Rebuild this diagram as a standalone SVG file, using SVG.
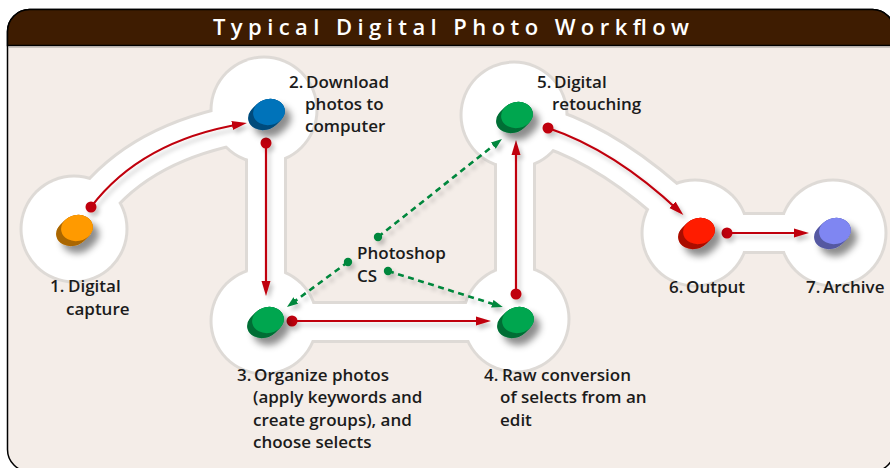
<svg xmlns="http://www.w3.org/2000/svg" xmlns:xlink="http://www.w3.org/1999/xlink" width="890" height="468" viewBox="0 0 890 468">
<style>
.lbl{font-family:"Open Sans","Liberation Sans",sans-serif;font-weight:600;font-size:17px;fill:#1b1b1b}
.title{font-family:"Open Sans","Liberation Sans",sans-serif;font-weight:600;font-size:22px;fill:#ffffff}
.trk-o{fill:none;stroke:#dedad6;stroke-width:42;stroke-linejoin:round}
.trk-i{fill:none;stroke:#ffffff;stroke-width:36;stroke-linejoin:round}
.halo-o{fill:#dedad6}
.halo-i{fill:#ffffff}
.red{fill:none;stroke:#c0000c;stroke-width:2.2}
.rdot{fill:#c0000c}
.grn{fill:none;stroke:#00873c;stroke-width:2.6;stroke-dasharray:6 4.5}
.gdot{fill:#00873c}
</style>
<defs>
<filter id="csh" x="-50%" y="-50%" width="200%" height="200%">
<feDropShadow dx="6" dy="7" stdDeviation="3.5" flood-color="#000" flood-opacity="0.45"/>
</filter>
<filter id="ash" x="-20%" y="-20%" width="140%" height="140%">
<feDropShadow dx="3" dy="4" stdDeviation="2" flood-color="#000" flood-opacity="0.22"/>
</filter>
<marker id="ah" markerUnits="userSpaceOnUse" markerWidth="16" markerHeight="10" refX="9" refY="5" orient="auto">
<path d="M0,0.5 L15,5 L0,9.5 Z" fill="#c0000c"/>
</marker>
<marker id="gh" markerUnits="userSpaceOnUse" markerWidth="12" markerHeight="9" refX="6" refY="4.5" orient="auto">
<path d="M0,0.5 L11,4.5 L0,8.5 Z" fill="#00873c"/>
</marker>
<g id="coin">
<g fill="currentColor">
<ellipse cx="2" cy="-2" rx="16" ry="13" transform="rotate(-12 2 -2)"/>
<ellipse cx="1" cy="-1" rx="16" ry="13" transform="rotate(-12 1 -1)"/>
<ellipse cx="0" cy="0" rx="16" ry="13" transform="rotate(-12 0 0)"/>
<ellipse cx="-1" cy="1" rx="16" ry="13" transform="rotate(-12 -1 1)"/>
<ellipse cx="-2" cy="2" rx="16" ry="13" transform="rotate(-12 -2 2)"/>
<ellipse cx="-3" cy="3" rx="16" ry="13" transform="rotate(-12 -3 3)"/>
</g>
<g fill="#000" opacity="0.33">
<ellipse cx="2" cy="-2" rx="16" ry="13" transform="rotate(-12 2 -2)"/>
<ellipse cx="1" cy="-1" rx="16" ry="13" transform="rotate(-12 1 -1)"/>
<ellipse cx="0" cy="0" rx="16" ry="13" transform="rotate(-12 0 0)"/>
<ellipse cx="-1" cy="1" rx="16" ry="13" transform="rotate(-12 -1 1)"/>
<ellipse cx="-2" cy="2" rx="16" ry="13" transform="rotate(-12 -2 2)"/>
<ellipse cx="-3" cy="3" rx="16" ry="13" transform="rotate(-12 -3 3)"/>
</g>
<ellipse cx="2" cy="-2" rx="16" ry="13" transform="rotate(-12 2 -2)" fill="currentColor"/>
</g>
</defs>

<rect x="0" y="0" width="890" height="468" fill="#ffffff"/>
<g id="frame">
<rect x="7.5" y="9.5" width="887" height="462" rx="22" ry="22" fill="#f4ede8" stroke="#000" stroke-width="1.5"/>
<path d="M7.5,45.5 L7.5,31.5 A22,22 0 0 1 29.5,9.5 L872.5,9.5 A22,22 0 0 1 894.5,31.5 L894.5,45.5 Z" fill="#3e1c01" stroke="#000" stroke-width="1.5"/>
<line x1="8" y1="47.2" x2="890" y2="47.2" stroke="#b9b2ad" stroke-width="1"/>
<text class="title" x="213" y="35" textLength="476" lengthAdjust="spacing">Typical Digital Photo Workflow</text>
</g>

<g id="track">
<path class="trk-o" d="M74,229 L91,207 Q141,141 247,123 L264,112"/>
<path class="trk-o" d="M266,110 L266,322"/>
<path class="trk-o" d="M264,322 L516,322"/>
<path class="trk-o" d="M515,321 L515,115"/>
<path class="trk-o" d="M514,115 L548,128 Q614,150 683,215 L695,233"/>
<path class="trk-o" d="M695,233 L833,233"/>
<circle class="halo-o" cx="74" cy="229" r="54.5"/>
<circle class="halo-o" cx="264" cy="110" r="54.5"/>
<circle class="halo-o" cx="264" cy="321" r="54.5"/>
<circle class="halo-o" cx="516" cy="319" r="54.5"/>
<circle class="halo-o" cx="514" cy="115" r="54.5"/>
<circle class="halo-o" cx="695" cy="233" r="54.5"/>
<circle class="halo-o" cx="833" cy="233" r="54.5"/>
<path class="trk-i" d="M74,229 L91,207 Q141,141 247,123 L264,112"/>
<path class="trk-i" d="M266,110 L266,322"/>
<path class="trk-i" d="M264,322 L516,322"/>
<path class="trk-i" d="M515,321 L515,115"/>
<path class="trk-i" d="M514,115 L548,128 Q614,150 683,215 L695,233"/>
<path class="trk-i" d="M695,233 L833,233"/>
<circle class="halo-i" cx="74" cy="229" r="51.5"/>
<circle class="halo-i" cx="264" cy="110" r="51.5"/>
<circle class="halo-i" cx="264" cy="321" r="51.5"/>
<circle class="halo-i" cx="516" cy="319" r="51.5"/>
<circle class="halo-i" cx="514" cy="115" r="51.5"/>
<circle class="halo-i" cx="695" cy="233" r="51.5"/>
<circle class="halo-i" cx="833" cy="233" r="51.5"/>
</g>

<g id="connectors" filter="url(#ash)">
<path class="red" d="M91,207 Q141,141 241,124" marker-end="url(#ah)"/>
<circle class="rdot" cx="91" cy="207" r="5.5"/>
<path class="red" d="M266,143 L266,290" marker-end="url(#ah)"/>
<circle class="rdot" cx="266" cy="143" r="5.5"/>
<path class="red" d="M292,321 L485,321" marker-end="url(#ah)"/>
<circle class="rdot" cx="292" cy="321" r="5.5"/>
<path class="red" d="M516,294 L516,146" marker-end="url(#ah)"/>
<circle class="rdot" cx="516" cy="294" r="5.5"/>
<path class="red" d="M548,128 Q614,150 679,211" marker-end="url(#ah)"/>
<circle class="rdot" cx="548" cy="128" r="5.5"/>
<path class="red" d="M727,233 L803,233" marker-end="url(#ah)"/>
<circle class="rdot" cx="727" cy="233" r="5.5"/>
<path class="grn" d="M378,237 L498,142" marker-end="url(#gh)"/>
<circle class="gdot" cx="378" cy="237" r="4.2"/>
<path class="grn" d="M348,262 L291,304" marker-end="url(#gh)"/>
<circle class="gdot" cx="348" cy="262" r="4.2"/>
<path class="grn" d="M388,271 L498,305.5" marker-end="url(#gh)"/>
<circle class="gdot" cx="388" cy="271" r="4.2"/>
</g>

<g id="node-1">
<use xlink:href="#coin" href="#coin" transform="translate(75,230)" style="color:#ff9a00" filter="url(#csh)"/>
<text class="lbl"><tspan x="50" y="292">1.</tspan><tspan x="68" y="292">Digital</tspan><tspan x="66" y="315">capture</tspan></text>
</g>
<g id="node-2">
<use xlink:href="#coin" href="#coin" transform="translate(267,114)" style="color:#0073ba" filter="url(#csh)"/>
<text class="lbl"><tspan x="289" y="88">2.</tspan><tspan x="306" y="88">Download</tspan><tspan x="305" y="110">photos to</tspan><tspan x="305" y="132">computer</tspan></text>
</g>
<g id="node-3">
<use xlink:href="#coin" href="#coin" transform="translate(266,322)" style="color:#00a650" filter="url(#csh)"/>
<text class="lbl"><tspan x="237" y="381">3.</tspan><tspan x="254" y="381">Organize photos</tspan><tspan x="253" y="403">(apply keywords and</tspan><tspan x="253" y="426">create groups), and</tspan><tspan x="253" y="448">choose selects</tspan></text>
</g>
<g id="node-4">
<use xlink:href="#coin" href="#coin" transform="translate(516,322)" style="color:#00a650" filter="url(#csh)"/>
<text class="lbl"><tspan x="484" y="381">4.</tspan><tspan x="502" y="381">Raw conversion</tspan><tspan x="500" y="403">of selects from an</tspan><tspan x="500" y="426">edit</tspan></text>
</g>
<g id="node-5">
<use xlink:href="#coin" href="#coin" transform="translate(515,117)" style="color:#00a650" filter="url(#csh)"/>
<text class="lbl"><tspan x="537" y="88">5.</tspan><tspan x="554" y="88">Digital</tspan><tspan x="552" y="110">retouching</tspan></text>
</g>
<g id="node-6">
<use xlink:href="#coin" href="#coin" transform="translate(697,233)" style="color:#ff1a00" filter="url(#csh)"/>
<text class="lbl"><tspan x="669" y="293">6.</tspan><tspan x="686" y="293">Output</tspan></text>
</g>
<g id="node-7">
<use xlink:href="#coin" href="#coin" transform="translate(833,233)" style="color:#7f86f2" filter="url(#csh)"/>
<text class="lbl"><tspan x="806" y="293">7.</tspan><tspan x="823" y="293">Archive</tspan></text>
</g>
<g id="photoshop">
<text class="lbl"><tspan x="357" y="259">Photoshop</tspan><tspan x="357" y="282">CS</tspan></text>
</g>
</svg>
